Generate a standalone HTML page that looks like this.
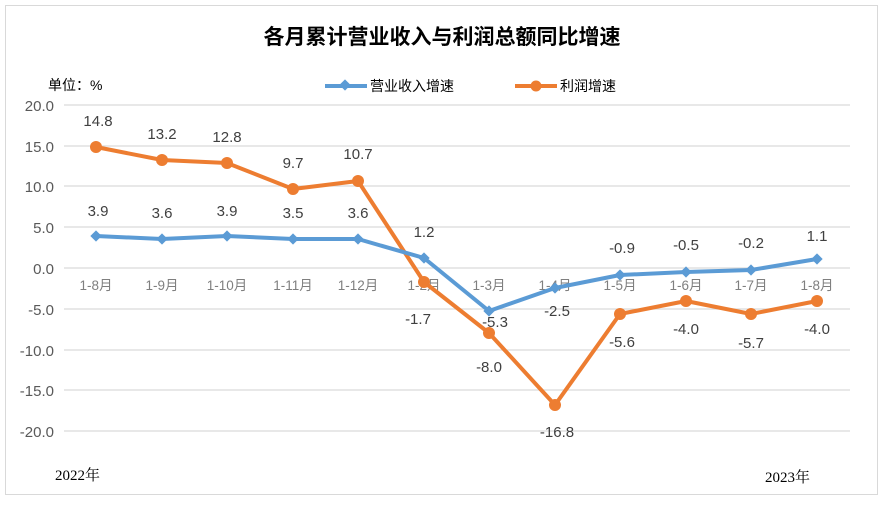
<!DOCTYPE html>
<html><head><meta charset="utf-8"><style>
body{margin:0;background:#fff}
text{font-family:"Liberation Sans","Noto Sans CJK SC",sans-serif}
text.serif{font-family:"Liberation Serif","Noto Serif CJK SC",serif}
</style></head><body>
<svg width="884" height="500" xmlns="http://www.w3.org/2000/svg">
<rect x="5.5" y="5.5" width="872" height="489" fill="#fff" stroke="#d9d9d9"/>
<text x="442" y="44" font-size="21" font-weight="bold" text-anchor="middle" fill="#000">各月累计营业收入与利润总额同比增速</text>
<text x="48" y="90" font-size="14" fill="#000">单位：%</text>
<g stroke="#d9d9d9" stroke-width="1.3">
<line x1="64" x2="850" y1="105" y2="105"/><line x1="64" x2="850" y1="146" y2="146"/>
<line x1="64" x2="850" y1="186" y2="186"/><line x1="64" x2="850" y1="227" y2="227"/>
<line x1="64" x2="850" y1="268" y2="268"/><line x1="64" x2="850" y1="309" y2="309"/>
<line x1="64" x2="850" y1="350" y2="350"/><line x1="64" x2="850" y1="390" y2="390"/>
<line x1="64" x2="850" y1="431" y2="431"/>
</g>
<g font-size="15" fill="#595959" text-anchor="end">
<text x="54" y="111">20.0</text><text x="54" y="152">15.0</text><text x="54" y="192">10.0</text>
<text x="54" y="233">5.0</text><text x="54" y="274">0.0</text><text x="54" y="315">-5.0</text>
<text x="54" y="356">-10.0</text><text x="54" y="396">-15.0</text><text x="54" y="437">-20.0</text>
</g>
<g font-size="13.5" fill="#7f7f7f" text-anchor="middle">
<text x="96" y="290">1-8月</text><text x="162" y="290">1-9月</text><text x="227" y="290">1-10月</text>
<text x="293" y="290">1-11月</text><text x="358" y="290">1-12月</text><text x="424" y="290">1-2月</text>
<text x="489" y="290">1-3月</text><text x="555" y="290">1-4月</text><text x="620" y="290">1-5月</text>
<text x="686" y="290">1-6月</text><text x="751" y="290">1-7月</text><text x="817" y="290">1-8月</text>
</g>
<line x1="325" x2="367" y1="86" y2="86" stroke="#5b9bd5" stroke-width="4"/>
<rect x="341" y="81" width="8" height="8" fill="#5b9bd5" transform="rotate(45 345 85)"/>
<text x="370" y="91" font-size="14" fill="#000">营业收入增速</text>
<line x1="515" x2="557" y1="86" y2="86" stroke="#ed7d31" stroke-width="4"/>
<circle cx="536" cy="86" r="5.5" fill="#ed7d31"/>
<text x="560" y="91" font-size="14" fill="#000">利润增速</text>
<polyline fill="none" stroke="#ed7d31" stroke-width="4" stroke-linejoin="round" points="96,147 162,160 227,163 293,189 358,181 424,282 489,333 555,405 620,314 686,301 751,314 817,301"/>
<g fill="#ed7d31">
<circle cx="96" cy="147" r="6"/><circle cx="162" cy="160" r="6"/><circle cx="227" cy="163" r="6"/>
<circle cx="293" cy="189" r="6"/><circle cx="358" cy="181" r="6"/><circle cx="424" cy="282" r="6"/>
<circle cx="489" cy="333" r="6"/><circle cx="555" cy="405" r="6"/><circle cx="620" cy="314" r="6"/>
<circle cx="686" cy="301" r="6"/><circle cx="751" cy="314" r="6"/><circle cx="817" cy="301" r="6"/>
</g>
<polyline fill="none" stroke="#5b9bd5" stroke-width="4" stroke-linejoin="round" points="96,236 162,239 227,236 293,239 358,239 424,258 489,311 555,288 620,275 686,272 751,270 817,259"/>
<g fill="#5b9bd5">
<rect x="92" y="232" width="8" height="8" transform="rotate(45 96 236)"/>
<rect x="158" y="235" width="8" height="8" transform="rotate(45 162 239)"/>
<rect x="223" y="232" width="8" height="8" transform="rotate(45 227 236)"/>
<rect x="289" y="235" width="8" height="8" transform="rotate(45 293 239)"/>
<rect x="354" y="235" width="8" height="8" transform="rotate(45 358 239)"/>
<rect x="420" y="254" width="8" height="8" transform="rotate(45 424 258)"/>
<rect x="485" y="307" width="8" height="8" transform="rotate(45 489 311)"/>
<rect x="551" y="284" width="8" height="8" transform="rotate(45 555 288)"/>
<rect x="616" y="271" width="8" height="8" transform="rotate(45 620 275)"/>
<rect x="682" y="268" width="8" height="8" transform="rotate(45 686 272)"/>
<rect x="747" y="266" width="8" height="8" transform="rotate(45 751 270)"/>
<rect x="813" y="255" width="8" height="8" transform="rotate(45 817 259)"/>
</g>
<g font-size="15" fill="#404040" text-anchor="middle">
<text x="98" y="126">14.8</text><text x="162" y="139">13.2</text><text x="227" y="142">12.8</text>
<text x="293" y="168">9.7</text><text x="358" y="159">10.7</text>
<text x="418" y="324">-1.7</text><text x="489" y="372">-8.0</text><text x="557" y="437">-16.8</text>
<text x="622" y="347">-5.6</text><text x="686" y="334">-4.0</text><text x="751" y="348">-5.7</text><text x="817" y="334">-4.0</text>
<text x="98" y="216">3.9</text><text x="162" y="218">3.6</text><text x="227" y="216">3.9</text>
<text x="293" y="218">3.5</text><text x="358" y="218">3.6</text><text x="424" y="237">1.2</text>
<text x="495" y="327">-5.3</text><text x="557" y="316">-2.5</text><text x="622" y="253">-0.9</text>
<text x="686" y="250">-0.5</text><text x="751" y="248">-0.2</text><text x="817" y="241">1.1</text>
</g>
<text class="serif" x="55" y="480" font-size="15" fill="#000">2022年</text>
<text class="serif" x="765" y="482" font-size="15" fill="#000">2023年</text>
</svg>
</body></html>
